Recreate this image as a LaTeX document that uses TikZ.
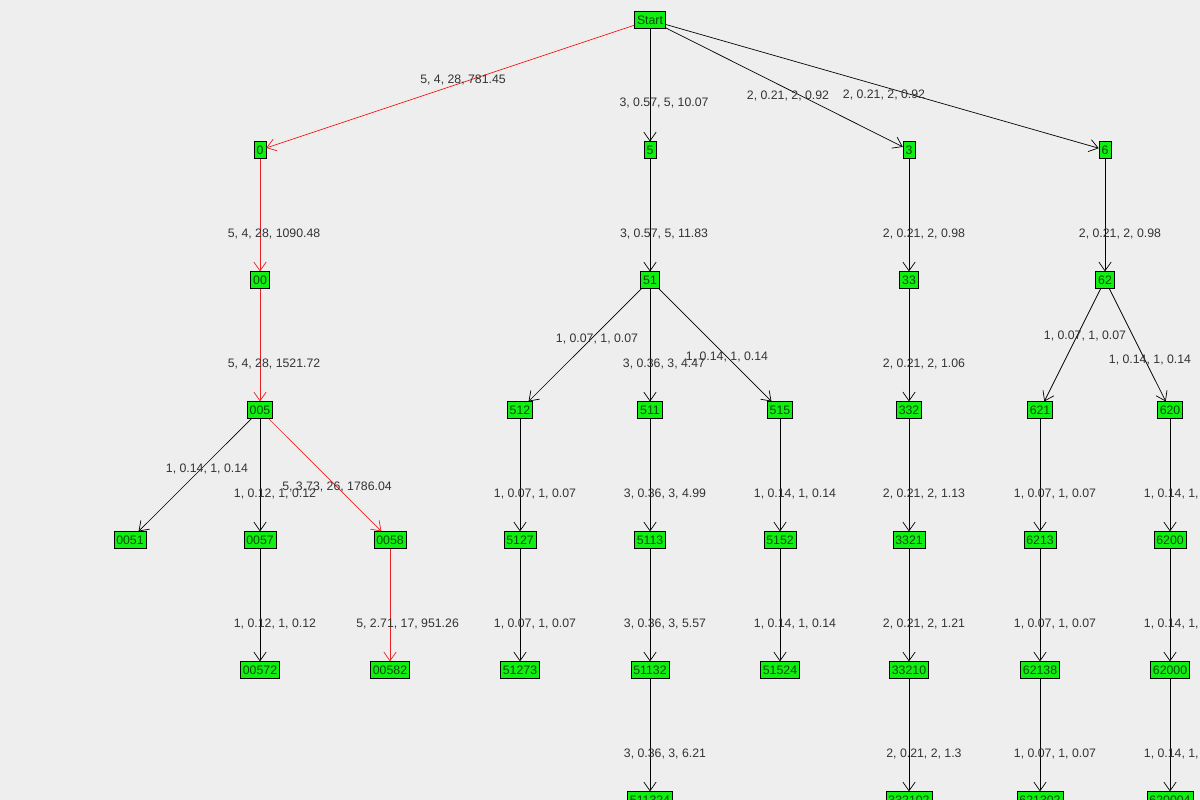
\documentclass[tikz,border=0pt]{standalone}
\usepackage{fontspec}
\setmainfont{Liberation Sans}
\usetikzlibrary{arrows.meta}
\definecolor{bgc}{HTML}{EEEEEE}
\definecolor{boxc}{HTML}{11EE11}
\definecolor{redc}{HTML}{E82020}
\definecolor{txtc}{HTML}{333333}

\begin{document}
\begin{tikzpicture}
  [x=0.02cm,y=-0.02cm,
   st/.style={shape=rectangle,draw,fill=boxc,inner xsep=1.4pt,inner ysep=2.2pt,
              font=\fontsize{7}{8}\selectfont,text=black!70!green},
   lbl/.style={font=\fontsize{7}{8}\selectfont,text=txtc,inner sep=0pt},
   ed/.style={-{Straight Barb[length=5pt,width=7pt]},thin},
   hot/.style={ed,draw=redc}]
\fill [bgc] (0,0) rectangle (1200,800);
\clip (0,0) rectangle (1200,800);
\useasboundingbox (0,0) rectangle (1200,800);

\node [st] (start) at (650,20) {Start};
\node [st] (n0) at (260,150) {0};
\node [st] (n5) at (650,150) {5};
\node [st] (n3) at (909,150) {3};
\node [st] (n6) at (1105,150) {6};
\node [st] (n00) at (260,280) {00};
\node [st] (n51) at (650,280) {51};
\node [st] (n33) at (909,280) {33};
\node [st] (n62) at (1105,280) {62};
\node [st] (n005) at (260,410) {005};
\node [st] (n512) at (520,410) {512};
\node [st] (n511) at (650,410) {511};
\node [st] (n515) at (780,410) {515};
\node [st] (n332) at (909,410) {332};
\node [st] (n621) at (1040,410) {621};
\node [st] (n620) at (1170,410) {620};
\node [st] (n0051) at (130,540) {0051};
\node [st] (n0057) at (260,540) {0057};
\node [st] (n0058) at (390,540) {0058};
\node [st] (n5127) at (520,540) {5127};
\node [st] (n5113) at (650,540) {5113};
\node [st] (n5152) at (780,540) {5152};
\node [st] (n3321) at (909,540) {3321};
\node [st] (n6213) at (1040,540) {6213};
\node [st] (n6200) at (1170,540) {6200};
\node [st] (n00572) at (260,670) {00572};
\node [st] (n00582) at (390,670) {00582};
\node [st] (n51273) at (520,670) {51273};
\node [st] (n51132) at (650,670) {51132};
\node [st] (n51524) at (780,670) {51524};
\node [st] (n33210) at (909,670) {33210};
\node [st] (n62138) at (1040,670) {62138};
\node [st] (n62000) at (1170,670) {62000};
\node [st] (n511324) at (650,800) {511324};
\node [st] (n332102) at (909,800) {332102};
\node [st] (n621302) at (1040,800) {621302};
\node [st] (n620004) at (1170,800) {620004};

% path taken
\draw [hot] (start) -- (n0);
\draw [hot] (n0) -- node [lbl,pos=0.67,xshift=8pt] {5, 4, 28, 1090.48} (n00);
\draw [hot] (n00) -- node [lbl,pos=0.67,xshift=8pt] {5, 4, 28, 1521.72} (n005);
\draw [hot] (n005) -- (n0058);
\draw [hot] (n0058) -- node [lbl,pos=0.67,xshift=10pt] {5, 2.71, 17, 951.26} (n00582);

% other branches
\draw [ed] (start) -- (n5);
\draw [ed] (start) -- (n3);
\draw [ed] (start) -- (n6);
\draw [ed] (n5) -- node [lbl,pos=0.67,xshift=8pt] {3, 0.57, 5, 11.83} (n51);
\draw [ed] (n3) -- node [lbl,pos=0.67,xshift=8.5pt] {2, 0.21, 2, 0.98} (n33);
\draw [ed] (n6) -- node [lbl,pos=0.67,xshift=8.5pt] {2, 0.21, 2, 0.98} (n62);
\draw [ed] (n51) -- (n512);
\draw [ed] (n51) -- (n511);
\draw [ed] (n51) -- (n515);
\draw [ed] (n33) -- node [lbl,pos=0.67,xshift=8.5pt] {2, 0.21, 2, 1.06} (n332);
\draw [ed] (n62) -- (n621);
\draw [ed] (n62) -- (n620);
\draw [ed] (n005) -- (n0051);
\draw [ed] (n005) -- (n0057);
\foreach \a/\b/\t in {n512/n5127/{1, 0.07, 1, 0.07},n511/n5113/{3, 0.36, 3, 4.99},
    n515/n5152/{1, 0.14, 1, 0.14},n332/n3321/{2, 0.21, 2, 1.13},
    n621/n6213/{1, 0.07, 1, 0.07},n620/n6200/{1, 0.14, 1, 0.14},
    n0057/n00572/{1, 0.12, 1, 0.12},n5127/n51273/{1, 0.07, 1, 0.07},
    n5113/n51132/{3, 0.36, 3, 5.57},n5152/n51524/{1, 0.14, 1, 0.14},
    n3321/n33210/{2, 0.21, 2, 1.21},n6213/n62138/{1, 0.07, 1, 0.07},
    n6200/n62000/{1, 0.14, 1, 0.14},n51132/n511324/{3, 0.36, 3, 6.21},
    n33210/n332102/{2, 0.21, 2, 1.3},n62138/n621302/{1, 0.07, 1, 0.07},
    n62000/n620004/{1, 0.14, 1, 0.14}}
  \draw [ed] (\a) -- node [lbl,pos=0.67,xshift=8.5pt] {\t} (\b);

% labels of slanted edges
\node [lbl] (l1) at (463,80) {5, 4, 28, 781.45};
\node [lbl] (l2) at (664,103) {3, 0.57, 5, 10.07};
\node [lbl] (l3) at (788,96) {2, 0.21, 2, 0.92};
\node [lbl] (l4) at (884,95) {2, 0.21, 2, 0.92};
\node [lbl] (l5) at (597,339) {1, 0.07, 1, 0.07};
\node [lbl] (l6) at (664,364) {3, 0.36, 3, 4.47};
\node [lbl] (l7) at (727,357) {1, 0.14, 1, 0.14};
\node [lbl] (l8) at (1085,336) {1, 0.07, 1, 0.07};
\node [lbl] (l9) at (1150,360) {1, 0.14, 1, 0.14};
\node [lbl] (l10) at (207,469) {1, 0.14, 1, 0.14};
\node [lbl] (l11) at (275,494) {1, 0.12, 1, 0.12};
\node [lbl] (l12) at (337,487) {5, 3.73, 26, 1786.04};
\end{tikzpicture}
\end{document}
